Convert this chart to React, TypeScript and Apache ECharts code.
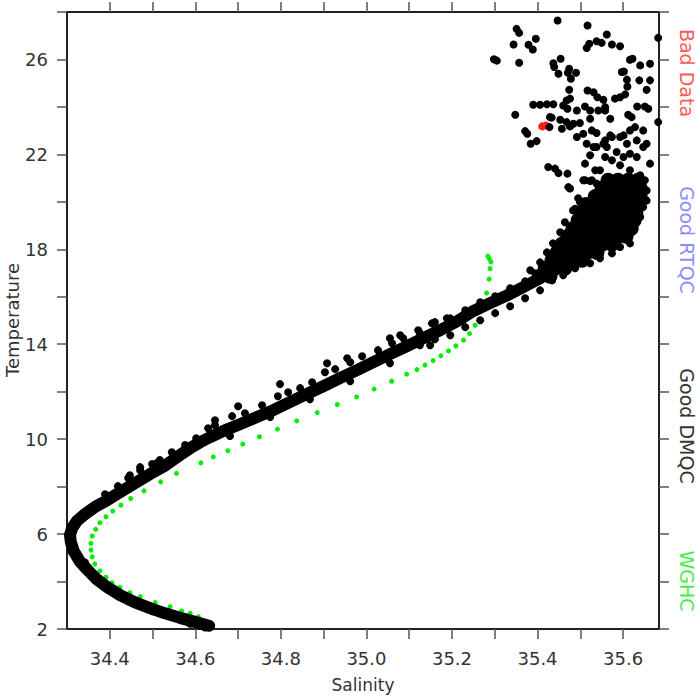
import React, { useEffect, useRef } from "react";
import * as echarts from "echarts";

// Axis ticks / labels
const xTickValues = [34.4, 34.5, 34.6, 34.7, 34.8, 34.9, 35.0, 35.1, 35.2, 35.3, 35.4, 35.5, 35.6];
const xLabelValues = [34.4, 34.6, 34.8, 35.0, 35.2, 35.4, 35.6];
const yTickValues = [2, 4, 6, 8, 10, 12, 14, 16, 18, 20, 22, 24, 26, 28];
const yLabelValues = [2, 6, 10, 14, 18, 22, 26];

// Bad Data (red)
const badData = [[35.411, 23.18], [35.42, 23.22]];

// WGHC climatology (green)
const wghc = [
  [34.607, 2.52], [34.588, 2.66], [34.568, 2.76], [34.541, 2.94], [34.506, 3.12], [34.471, 3.36],
  [34.447, 3.53], [34.424, 3.76], [34.405, 3.95], [34.391, 4.18], [34.377, 4.45], [34.365, 4.74],
  [34.359, 5.04], [34.356, 5.33], [34.356, 5.61], [34.359, 5.92], [34.367, 6.2], [34.377, 6.48],
  [34.391, 6.73], [34.407, 6.97], [34.426, 7.22], [34.449, 7.5], [34.48, 7.82], [34.519, 8.2],
  [34.556, 8.56], [34.613, 9.0], [34.642, 9.25], [34.676, 9.51], [34.711, 9.79], [34.75, 10.1],
  [34.792, 10.42], [34.837, 10.77], [34.885, 11.12], [34.932, 11.46], [34.977, 11.78], [35.018, 12.11],
  [35.059, 12.44], [35.094, 12.74], [35.118, 12.93], [35.137, 13.12], [35.156, 13.31], [35.174, 13.51],
  [35.192, 13.72], [35.209, 13.93], [35.227, 14.17], [35.241, 14.45], [35.254, 14.8],
  [35.281, 16.16], [35.287, 16.74], [35.289, 17.19], [35.291, 17.47], [35.287, 17.61],
  [35.284, 17.71],
];

// Good DMQC: dense core of the T-S band
const dmqcCore = [
  [34.632, 2.14], [34.599, 2.3], [34.564, 2.47], [34.529, 2.66], [34.494, 2.88], [34.459, 3.12],
  [34.424, 3.43], [34.396, 3.74], [34.37, 4.09], [34.349, 4.47], [34.33, 4.85], [34.316, 5.27],
  [34.309, 5.66], [34.307, 5.96], [34.312, 6.25], [34.323, 6.55], [34.342, 6.84], [34.365, 7.14],
  [34.394, 7.43], [34.424, 7.77], [34.459, 8.15], [34.494, 8.53], [34.529, 8.88], [34.564, 9.33],
  [34.588, 9.62], [34.611, 9.87], [34.634, 10.08], [34.665, 10.34], [34.704, 10.63], [34.744, 10.93],
  [34.782, 11.22], [34.821, 11.56], [34.845, 11.77], [34.899, 12.23], [34.938, 12.57], [34.978, 12.91],
  [35.015, 13.24], [35.055, 13.58], [35.095, 13.92], [35.132, 14.25], [35.172, 14.59], [35.212, 14.97],
  [35.249, 15.39], [35.289, 15.73], [35.329, 16.06], [35.366, 16.4], [35.406, 16.78], [35.434, 17.2],
];

// Good DMQC: dense warm blob
const dmqcBlob = [
  [35.406, 16.86], [35.429, 16.86],
  [35.418, 17.2], [35.441, 17.2], [35.464, 17.2],
  [35.434, 17.54], [35.457, 17.54], [35.481, 17.54], [35.504, 17.54],
  [35.446, 17.87], [35.469, 17.87], [35.492, 17.87], [35.516, 17.87], [35.539, 17.87],
  [35.457, 18.21], [35.481, 18.21], [35.504, 18.21], [35.528, 18.21], [35.551, 18.21], [35.574, 18.21],
  [35.471, 18.55], [35.495, 18.55], [35.518, 18.55], [35.542, 18.55], [35.565, 18.55], [35.588, 18.55], [35.607, 18.55],
  [35.483, 18.88], [35.506, 18.88], [35.53, 18.88], [35.553, 18.88], [35.577, 18.88], [35.6, 18.88], [35.619, 18.88],
  [35.495, 19.22], [35.518, 19.22], [35.542, 19.22], [35.565, 19.22], [35.588, 19.22], [35.612, 19.22], [35.626, 19.22],
  [35.504, 19.56], [35.528, 19.56], [35.551, 19.56], [35.574, 19.56], [35.598, 19.56], [35.621, 19.56], [35.63, 19.56],
  [35.513, 19.89], [35.537, 19.89], [35.56, 19.89], [35.584, 19.89], [35.607, 19.89], [35.63, 19.89],
  [35.535, 20.23], [35.558, 20.23], [35.581, 20.23], [35.605, 20.23], [35.628, 20.23], [35.64, 20.23],
  [35.551, 20.57], [35.574, 20.57], [35.598, 20.57], [35.621, 20.57], [35.64, 20.57],
  [35.565, 20.91], [35.588, 20.91], [35.612, 20.91], [35.635, 20.91],
];

// Good DMQC: individual profile points (edges, bumps, warm scatter)
const dmqcPoints = [
  // lower limb
  [34.637, 2.14], [34.623, 2.06], [34.588, 2.22], [34.541, 2.58], [34.5, 2.75], [34.447, 3.15],
  [34.38, 3.9], [34.342, 4.8], [34.312, 5.38], [34.318, 6.4], [34.335, 6.8],
  // upper limb bumps
  [34.389, 7.68], [34.419, 8.02], [34.443, 8.36], [34.471, 8.69], [34.499, 8.95], [34.517, 9.12],
  [34.545, 9.45], [34.576, 9.75], [34.602, 10.04], [34.447, 8.48], [34.471, 8.82], [34.51, 8.99],
  // middle band upper edge
  [34.646, 10.59], [34.686, 10.97], [34.716, 11.09], [34.756, 11.43], [34.793, 11.81], [34.817, 11.98],
  [34.845, 12.15], [34.873, 12.4], [34.903, 12.82], [34.927, 12.95], [34.962, 13.24], [34.99, 13.49],
  [35.027, 13.75], [35.06, 14.04], [35.086, 14.25], [35.121, 14.59], [35.153, 14.88], [35.188, 15.09],
  [34.908, 13.2], [34.955, 13.41], [34.798, 12.32], [34.7, 11.39], [35.055, 14.25], [35.079, 14.38],
  [34.63, 10.46], [34.646, 10.8],
  // middle band lower edge
  [34.681, 10.13], [34.775, 10.93], [34.868, 11.68], [34.962, 12.44], [35.055, 13.2], [35.149, 13.96],
  // band edges near 15-17 degC
  [35.125, 14.46], [35.16, 14.93], [35.196, 15.09], [35.231, 15.43], [35.266, 15.77], [35.301, 16.02],
  [35.336, 16.36], [35.371, 16.65], [35.394, 16.99], [35.418, 17.28],
  [35.125, 13.96], [35.16, 14.21], [35.196, 14.38], [35.231, 14.72], [35.266, 15.01], [35.301, 15.31],
  [35.336, 15.6], [35.371, 15.94], [35.406, 16.27], [35.434, 16.69],
  // blob edges
  [35.64, 19.36], [35.647, 19.78], [35.616, 18.25], [35.593, 18.1], [35.574, 17.83], [35.546, 17.62],
  [35.523, 17.41], [35.488, 17.2], [35.46, 16.91],
  [35.483, 19.64], [35.495, 20.15], [35.464, 19.14], [35.453, 18.72], [35.436, 18.25], [35.422, 17.87],
  [35.406, 17.45], [35.383, 17.12],
  // warm scatter
  [35.351, 27.29], [35.357, 27.12], [35.344, 26.63], [35.396, 26.87], [35.379, 26.62], [35.389, 26.42],
  [35.298, 26.01], [35.305, 25.95], [35.357, 25.86], [35.447, 27.64], [35.517, 27.43], [35.562, 27.05],
  [35.538, 26.77], [35.55, 26.7], [35.521, 26.66], [35.515, 26.48], [35.574, 26.63], [35.593, 26.56],
  [35.682, 26.91], [35.437, 25.84], [35.439, 25.68], [35.454, 26.03], [35.474, 25.61], [35.471, 25.44],
  [35.49, 25.44], [35.449, 25.4], [35.478, 25.19], [35.474, 24.72], [35.476, 24.35], [35.468, 24.27],
  [35.517, 24.69], [35.531, 24.62], [35.54, 24.41], [35.554, 24.3], [35.558, 23.99], [35.581, 24.35],
  [35.593, 24.41], [35.605, 24.53], [35.61, 24.86], [35.609, 25.15], [35.616, 25.99], [35.622, 26.03],
  [35.64, 25.75], [35.663, 25.82], [35.597, 25.47], [35.602, 25.49], [35.638, 25.12], [35.663, 25.12],
  [35.655, 24.72], [35.633, 24.02], [35.651, 24.02], [35.659, 23.92], [35.682, 23.36], [35.612, 23.67],
  [35.62, 23.57], [35.628, 23.15], [35.647, 23.01],
  [35.39, 24.09], [35.406, 24.09], [35.422, 24.11], [35.437, 24.11], [35.46, 24.06], [35.47, 23.92],
  [35.492, 23.85], [35.511, 24.02], [35.523, 23.85], [35.542, 23.85], [35.558, 23.85], [35.57, 23.5],
  [35.433, 23.55], [35.453, 23.46], [35.468, 23.36], [35.484, 23.29], [35.499, 23.32], [35.476, 23.18],
  [35.457, 23.08], [35.428, 23.15], [35.348, 23.67], [35.371, 22.98], [35.376, 22.87], [35.398, 22.56],
  [35.384, 22.45], [35.429, 23.57], [35.523, 23.5], [35.527, 23.01], [35.538, 22.9], [35.492, 22.73],
  [35.507, 22.87], [35.515, 22.45], [35.523, 21.96], [35.538, 22.31], [35.558, 22.59], [35.574, 22.73],
  [35.601, 22.8], [35.616, 23.01], [35.609, 22.45], [35.632, 22.59], [35.647, 22.31], [35.616, 22.03],
  [35.632, 21.89], [35.663, 21.61], [35.562, 22.31], [35.585, 22.1], [35.601, 21.89], [35.574, 21.75],
  [35.425, 21.47], [35.441, 21.4], [35.449, 21.21], [35.47, 21.19], [35.511, 21.61], [35.558, 21.89],
  [35.476, 20.56], [35.472, 20.62], [35.488, 19.71], [35.499, 19.99], [35.511, 20.91], [35.527, 20.91],
  [35.535, 21.33], [35.531, 22.31], [35.554, 22.45], [35.57, 22.8], [35.593, 22.73], [35.655, 22.45],
  [35.655, 20.48], [35.655, 20.06], [35.507, 20.91], [35.523, 20.88], [35.538, 20.77], [35.554, 20.77],
  [35.546, 21.33], [35.593, 21.54], [35.616, 21.33], [35.64, 21.12], [35.651, 20.91],
];

const FONT = "DejaVu Sans";
const TEXT_COLOR = "#333";

const sideLabels = [
  { text: "Bad Data", y: 73, color: "#ff5a5a" },
  { text: "Good RTQC", y: 240, color: "#8c8cff" },
  { text: "Good DMQC", y: 426, color: "#333333" },
  { text: "WGHC", y: 581, color: "#44ee44" },
];

export default function App() {
  const ref = useRef<HTMLDivElement>(null);
  useEffect(() => {
    if (!ref.current) return;
    const chart = echarts.init(ref.current, null, { renderer: "svg" });
    const axisLineStyle = { color: "#222", width: 2 };
    const tickStyle = { color: "#555", width: 1.5 };
    const dot = { color: "#000", opacity: 1 };
    chart.setOption({
      animation: false,
      backgroundColor: "#fff",
      grid: { left: 67, right: 41, top: 12, bottom: 71, containLabel: false, outerBoundsMode: "none" },
      xAxis: [
        {
          type: "value", position: "bottom", min: 34.3, max: 35.684,
          name: "Salinity", nameLocation: "middle", nameGap: 47,
          nameTextStyle: { fontFamily: FONT, fontSize: 17, color: TEXT_COLOR },
          axisLine: { show: true, onZero: false, lineStyle: axisLineStyle },
          axisTick: { show: true, inside: false, length: 10, lineStyle: tickStyle, customValues: xTickValues },
          axisLabel: {
            show: true, margin: 20, fontFamily: FONT, fontSize: 18, color: TEXT_COLOR,
            customValues: xLabelValues, formatter: (v: number) => v.toFixed(1),
          },
          splitLine: { show: false },
        },
        {
          type: "value", position: "top", min: 34.3, max: 35.684,
          axisLine: { show: true, onZero: false, lineStyle: axisLineStyle },
          axisTick: { show: true, inside: false, length: 10, lineStyle: tickStyle, customValues: xTickValues },
          axisLabel: { show: false },
          splitLine: { show: false },
        },
      ],
      yAxis: [
        {
          type: "value", position: "left", min: 2, max: 28,
          axisLine: { show: true, onZero: false, lineStyle: axisLineStyle },
          axisTick: { show: true, inside: false, length: 10, lineStyle: tickStyle, customValues: yTickValues },
          axisLabel: {
            show: true, margin: 19, fontFamily: FONT, fontSize: 18, color: TEXT_COLOR,
            customValues: yLabelValues, formatter: (v: number) => String(Math.round(v)),
          },
          splitLine: { show: false },
        },
        {
          type: "value", position: "right", min: 2, max: 28,
          axisLine: { show: true, onZero: false, lineStyle: axisLineStyle },
          axisTick: { show: true, inside: false, length: 10, lineStyle: tickStyle, customValues: yTickValues },
          axisLabel: { show: false },
          splitLine: { show: false },
        },
      ],
      series: [
        { type: "scatter", name: "Bad Data", data: badData, symbolSize: 8, itemStyle: { color: "#ff1a1a", opacity: 1 }, silent: true },
        {
          type: "line", name: "Good DMQC core", data: dmqcCore, symbol: "none", showSymbol: false, silent: true,
          lineStyle: { color: "#000", width: 12, cap: "round", join: "round", opacity: 1 },
        },
        { type: "scatter", name: "Good DMQC blob", data: dmqcBlob, symbolSize: 15, itemStyle: dot, silent: true },
        { type: "scatter", name: "Good DMQC", data: dmqcPoints, symbolSize: 8, itemStyle: dot, silent: true },
        { type: "scatter", name: "WGHC", data: wghc, symbolSize: 5, itemStyle: { color: "#00ee00", opacity: 1 }, silent: true },
      ],
      graphic: [
        {
          type: "text", x: 12, y: 320, rotation: Math.PI / 2, silent: true,
          style: { text: "Temperature", fill: TEXT_COLOR, font: `18px "${FONT}"`, align: "center", verticalAlign: "middle" },
        },
        ...sideLabels.map((l) => ({
          type: "text", x: 687, y: l.y, rotation: -Math.PI / 2, silent: true,
          style: { text: l.text, fill: l.color, font: `19px "${FONT}"`, align: "center", verticalAlign: "middle" },
        })),
      ],
    });
    return () => chart.dispose();
  }, []);
  return <div ref={ref} style={{ position: "fixed", left: 0, top: 0, width: 700, height: 700, background: "#fff" }} />;
}
